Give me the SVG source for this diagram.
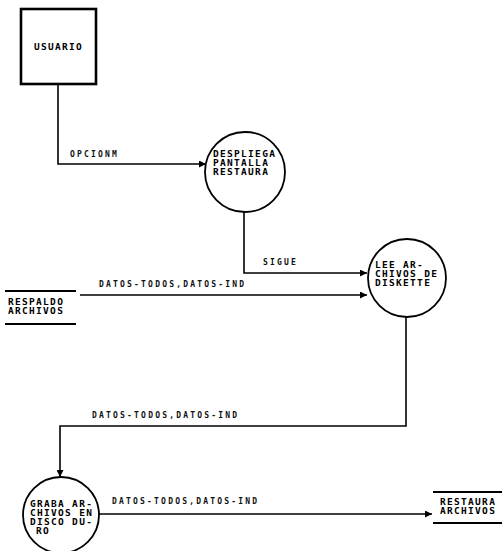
<svg xmlns="http://www.w3.org/2000/svg" width="502" height="551" viewBox="0 0 502 551">
<style>
.node{fill:none;stroke:#000;stroke-width:1.8}
.box{fill:none;stroke:#000;stroke-width:2.6}
.store{stroke:#000;stroke-width:1.8}
.conn{fill:none;stroke:#000;stroke-width:1.6}
.t{font-family:"DejaVu Sans Mono","Liberation Mono",monospace;font-weight:bold;font-size:9.5px;letter-spacing:1.3px;fill:#000}
.lbl{font-family:"DejaVu Sans Mono","Liberation Mono",monospace;font-weight:bold;font-size:8px;letter-spacing:2.2px;fill:#111}
</style>
<defs>
<marker id="arr" viewBox="0 0 10 10" refX="10" refY="5" markerWidth="7" markerHeight="7" markerUnits="userSpaceOnUse" orient="auto">
<path d="M0 0L10 5L0 10z" fill="#000"/>
</marker>
</defs>
<rect width="502" height="551" fill="#fff"/>
<g id="usuario">
<rect class="box" x="21" y="9" width="75" height="75"/>
<text class="t" x="58.5" y="50" text-anchor="middle">USUARIO</text>
</g>
<g id="despliega">
<circle class="node" cx="245" cy="172" r="40"/>
<text class="t" x="213" y="157">DESPLIEGA</text>
<text class="t" x="213" y="166">PANTALLA</text>
<text class="t" x="213" y="175">RESTAURA</text>
</g>
<g id="lee">
<circle class="node" cx="407" cy="278" r="39"/>
<text class="t" x="375" y="268">LEE AR-</text>
<text class="t" x="375" y="277">CHIVOS DE</text>
<text class="t" x="375" y="286">DISKETTE</text>
</g>
<g id="respaldo">
<line class="store" x1="5" y1="291" x2="76" y2="291"/>
<line class="store" x1="5" y1="324" x2="76" y2="324"/>
<text class="t" x="8" y="305">RESPALDO</text>
<text class="t" x="8" y="314">ARCHIVOS</text>
</g>
<g id="graba">
<circle class="node" cx="61" cy="515" r="38"/>
<text class="t" x="30" y="507">GRABA AR-</text>
<text class="t" x="30" y="516">CHIVOS EN</text>
<text class="t" x="30" y="525">DISCO DU-</text>
<text class="t" x="36" y="534">RO</text>
</g>
<g id="restaura">
<line class="store" x1="433" y1="492" x2="502" y2="492"/>
<line class="store" x1="433" y1="523" x2="502" y2="523"/>
<text class="t" x="440" y="505">RESTAURA</text>
<text class="t" x="440" y="514">ARCHIVOS</text>
</g>
<g id="connectors">
<path class="conn" d="M58 84V164H206" marker-end="url(#arr)"/>
<text class="lbl" x="70" y="157">OPCIONM</text>
<path class="conn" d="M244 212V273H367" marker-end="url(#arr)"/>
<text class="lbl" x="263" y="265">SIGUE</text>
<path class="conn" d="M80 295H367" marker-end="url(#arr)"/>
<text class="lbl" x="99" y="287">DATOS-TODOS,DATOS-IND</text>
<path class="conn" d="M406 317V426H60V477" marker-end="url(#arr)"/>
<text class="lbl" x="92" y="418">DATOS-TODOS,DATOS-IND</text>
<path class="conn" d="M99 514H432" marker-end="url(#arr)"/>
<text class="lbl" x="112" y="504">DATOS-TODOS,DATOS-IND</text>
</g>
</svg>
